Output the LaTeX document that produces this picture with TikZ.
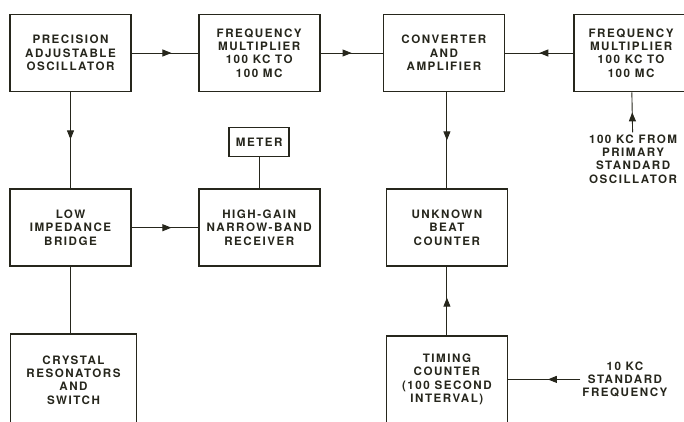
\documentclass[tikz,border=0pt]{standalone}
\usepackage{fontspec}
\setmainfont{TeX Gyre Heros}[LetterSpace=13]
\usepackage{xcolor}
\usetikzlibrary{positioning,arrows.meta,decorations.markings}
\definecolor{ink}{RGB}{38,38,28}

\begin{document}
\begin{tikzpicture}[x=1pt, y=-1pt,
  node distance=66pt,
  box/.style={draw=ink, line width=1.7pt, align=center, text=ink,
              font=\fontsize{11.6}{13.3}\selectfont\bfseries,
              minimum width=121pt, minimum height=77pt, inner sep=2pt},
  lbl/.style={align=center, text=ink, inner sep=2pt,
              font=\fontsize{11.6}{13.3}\selectfont\bfseries},
  wire/.style={draw=ink, line width=0.9pt},
  arr/.style={wire, postaction={decorate}, decoration={markings,
              mark=at position #1 with {\arrow[ink]{Triangle[length=9pt,width=7pt]}}}}]
\useasboundingbox (0,0) rectangle (684,422);
\node[box] (osc) at (70.5,53) {PRECISION\\ ADJUSTABLE\\ OSCILLATOR};
\node[box, right=66pt of osc] (mult) {FREQUENCY\\ MULTIPLIER\\ 100 KC TO\\ 100 MC};
\node[box, right=62pt of mult] (conv) {CONVERTER\\ AND\\ AMPLIFIER};
\node[box, right=68pt of conv, minimum width=114pt] (multb) {FREQUENCY\\ MULTIPLIER\\ 100 KC TO\\ 100 MC};
\node[box, below=96pt of osc] (bridge) {LOW\\ IMPEDANCE\\ BRIDGE};
\node[box, right=of bridge] (recv) {HIGH-GAIN\\ NARROW-BAND\\ RECEIVER};
\node[box, minimum width=60pt, minimum height=29pt, above=31pt of recv] (meter) {METER};
\node[box, below=96pt of conv, xshift=3pt] (beat) {UNKNOWN\\ BEAT\\ COUNTER};
\node[box, below=68pt of beat, minimum height=87pt] (timer) {TIMING\\ COUNTER\\ (100 SECOND\\ INTERVAL)};
\node[box, below=66pt of bridge, minimum height=92pt, minimum width=126pt, xshift=3pt] (xtal) {CRYSTAL\\ RESONATORS\\ AND\\ SWITCH};
\node[lbl, below=40pt of multb, xshift=2pt] (prim) {100 KC FROM\\ PRIMARY\\ STANDARD\\ OSCILLATOR};
\node[lbl, right=72pt of timer] (tenkc) {10 KC\\ STANDARD\\ FREQUENCY};
\draw[arr=0.6] (osc) -- (mult);
\draw[arr=0.5] (mult) -- (conv);
\draw[arr=0.5] (multb) -- (conv);
\draw[arr=0.5] (prim) -- (multb);
\draw[arr=0.5] (conv.south -| beat) -- (beat);
\draw[arr=0.49] (osc) -- (bridge);
\draw[arr=0.6] (bridge) -- (recv);
\draw[wire] (meter) -- (recv);
\draw[wire] (bridge) -- (bridge.south |- xtal.north);
\draw[arr=0.55] (timer) -- (beat);
\draw[arr=0.45] (tenkc) -- (timer);
\end{tikzpicture}
\end{document}
